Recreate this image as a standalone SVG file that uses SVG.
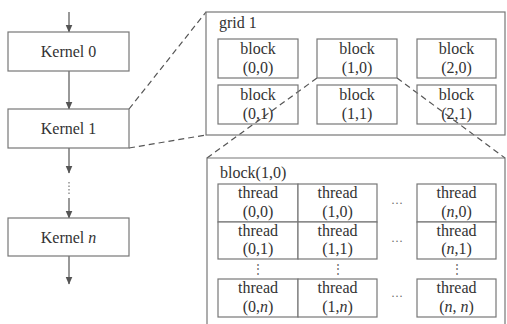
<svg xmlns="http://www.w3.org/2000/svg" width="507" height="324" viewBox="0 0 507 324">
<defs>
<marker id="ah" viewBox="0 0 8 8" refX="7.5" refY="4" markerWidth="8" markerHeight="8" markerUnits="userSpaceOnUse" orient="auto">
<path d="M0,0.5 L8,4 L0,7.5 Z" fill="#555"/>
</marker>
<style>
.box{fill:#fff;stroke:#777;stroke-width:1.2}
text{font-family:'Liberation Serif','Times New Roman',serif;font-size:16px;fill:#333}
.t{text-anchor:middle}
.a{stroke:#555;stroke-width:1.2;fill:none;marker-end:url(#ah)}
.d{stroke:#555;stroke-width:1.2;fill:none;stroke-dasharray:6,4}
.dot{font-size:12px;fill:#666;text-anchor:middle}
</style>
</defs>
<rect width="507" height="324" fill="#fff"/>
<g id="connectors">
<line class="a" x1="69" y1="12" x2="69" y2="32"/>
<line class="a" x1="69" y1="71" x2="69" y2="109"/>
<line class="a" x1="69" y1="148" x2="69" y2="173"/>
<line x1="69" y1="182" x2="69" y2="196" stroke="#777" stroke-width="1.2" stroke-dasharray="1.5,2"/>
<line class="a" x1="69" y1="198" x2="69" y2="218"/>
<line class="a" x1="69" y1="256" x2="69" y2="284"/>
<line class="d" x1="129" y1="109" x2="206" y2="12"/>
<line class="d" x1="129" y1="148" x2="206" y2="135"/>
<line class="d" x1="317" y1="78" x2="207" y2="158"/>
<line class="d" x1="397" y1="78" x2="505" y2="158"/>
</g>
<g id="kernel0"><rect class="box" x="8" y="32" width="121" height="39"/><text class="t" x="68.5" y="57">Kernel 0</text></g>
<g id="kernel1"><rect class="box" x="8" y="109" width="121" height="39"/><text class="t" x="68.5" y="134">Kernel 1</text></g>
<g id="kerneln"><rect class="box" x="8" y="218" width="121" height="38"/><text class="t" x="68.5" y="243">Kernel <tspan font-style="italic">n</tspan></text></g>
<g id="grid1">
<rect x="206" y="12" width="299" height="123" fill="none" stroke="#777" stroke-width="1.2"/>
<text x="219" y="28">grid 1</text>
</g>
<g id="block00"><rect class="box" x="218" y="39" width="80" height="39" fill-opacity="0"/><text class="t" x="258" y="54">block</text><text class="t" x="258" y="73">(0,0)</text></g>
<g id="block10"><rect class="box" x="317" y="39" width="80" height="39" fill-opacity="0"/><text class="t" x="357" y="54">block</text><text class="t" x="357" y="73">(1,0)</text></g>
<g id="block20"><rect class="box" x="417" y="39" width="79" height="39" fill-opacity="0"/><text class="t" x="456.5" y="54">block</text><text class="t" x="456.5" y="73">(2,0)</text></g>
<g id="block01"><rect class="box" x="218" y="85" width="80" height="39" fill-opacity="0"/><text class="t" x="258" y="100">block</text><text class="t" x="258" y="119">(0,1)</text></g>
<g id="block11"><rect class="box" x="317" y="85" width="80" height="39" fill-opacity="0"/><text class="t" x="357" y="100">block</text><text class="t" x="357" y="119">(1,1)</text></g>
<g id="block21"><rect class="box" x="417" y="85" width="79" height="39" fill-opacity="0"/><text class="t" x="456.5" y="100">block</text><text class="t" x="456.5" y="119">(2,1)</text></g>
<g id="block10detail">
<path d="M207,326 V158 H505 V326" fill="none" stroke="#777" stroke-width="1.2"/>
<text x="220" y="178">block(1,0)</text>
</g>
<g id="thread00"><rect class="box" x="218" y="184" width="80" height="38"/><text class="t" x="258" y="198">thread</text><text class="t" x="258" y="217">(0,0)</text></g>
<g id="thread10"><rect class="box" x="298" y="184" width="79" height="38"/><text class="t" x="337.5" y="198">thread</text><text class="t" x="337.5" y="217">(1,0)</text></g>
<g id="threadn0"><rect class="box" x="417" y="184" width="79" height="38"/><text class="t" x="456.5" y="198">thread</text><text class="t" x="456.5" y="217">(<tspan font-style="italic">n</tspan>,0)</text></g>
<g id="thread01"><rect class="box" x="218" y="222" width="80" height="37"/><text class="t" x="258" y="236">thread</text><text class="t" x="258" y="254">(0,1)</text></g>
<g id="thread11"><rect class="box" x="298" y="222" width="79" height="37"/><text class="t" x="337.5" y="236">thread</text><text class="t" x="337.5" y="254">(1,1)</text></g>
<g id="threadn1"><rect class="box" x="417" y="222" width="79" height="37"/><text class="t" x="456.5" y="236">thread</text><text class="t" x="456.5" y="254">(<tspan font-style="italic">n</tspan>,1)</text></g>
<g id="thread0n"><rect class="box" x="218" y="279" width="80" height="38"/><text class="t" x="258" y="293">thread</text><text class="t" x="258" y="312">(0,<tspan font-style="italic">n</tspan>)</text></g>
<g id="thread1n"><rect class="box" x="298" y="279" width="79" height="38"/><text class="t" x="337.5" y="293">thread</text><text class="t" x="337.5" y="312">(1,<tspan font-style="italic">n</tspan>)</text></g>
<g id="threadnn"><rect class="box" x="417" y="279" width="79" height="38"/><text class="t" x="456.5" y="293">thread</text><text class="t" x="456.5" y="312">(<tspan font-style="italic">n</tspan>, <tspan font-style="italic">n</tspan>)</text></g>
<g id="ellipses">
<text class="dot" x="397" y="207">···</text>
<text class="dot" x="397" y="245">···</text>
<text class="dot" x="397" y="300">···</text>
<text class="dot" x="258" y="273">⋮</text>
<text class="dot" x="337.5" y="273">⋮</text>
<text class="dot" x="456.5" y="273">⋮</text>
</g>
</svg>
